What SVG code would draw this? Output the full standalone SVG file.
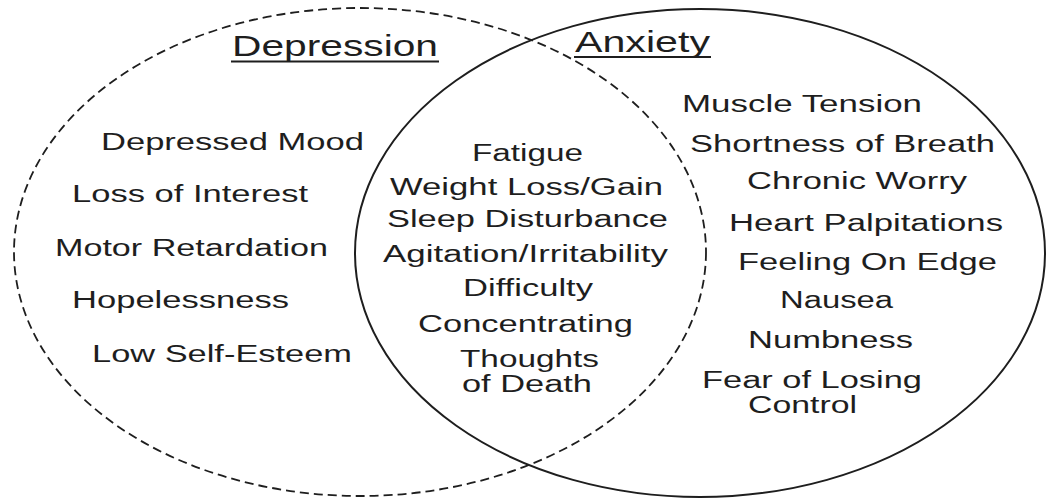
<svg xmlns="http://www.w3.org/2000/svg" width="1050" height="500" viewBox="0 0 1050 500">
<style>
  .t { font-family: "Liberation Sans", Arial, sans-serif; font-size: 23px; fill: #1e1e1e; }
  .h { font-family: "Liberation Sans", Arial, sans-serif; font-size: 30px; fill: #1e1e1e; }
  .ul { stroke: #1e1e1e; stroke-width: 2; }
  .dash { fill: none; stroke: #1e1e1e; stroke-width: 1.8; stroke-dasharray: 9 5; }
  .solid { fill: none; stroke: #1e1e1e; stroke-width: 2; }
</style>
<rect width="1050" height="500" fill="#ffffff"/>
<g id="sets">
  <ellipse id="depression-set" class="dash" cx="360" cy="252" rx="346" ry="244"/>
  <ellipse id="anxiety-set" class="solid" cx="700" cy="253" rx="345" ry="244"/>
</g>
<g id="depression-title">
  <text class="h" x="232" y="56" textLength="206" lengthAdjust="spacingAndGlyphs">Depression</text>
  <line class="ul" x1="231" y1="61.5" x2="439" y2="61.5"/>
</g>
<g id="anxiety-title">
  <text class="h" x="575" y="51.5" textLength="135" lengthAdjust="spacingAndGlyphs">Anxiety</text>
  <line class="ul" x1="574" y1="57" x2="711" y2="57"/>
</g>
<g id="depression-only">
  <text class="t" x="101" y="150" textLength="263" lengthAdjust="spacingAndGlyphs">Depressed Mood</text>
  <text class="t" x="72" y="202" textLength="236" lengthAdjust="spacingAndGlyphs">Loss of Interest</text>
  <text class="t" x="55" y="256" textLength="273" lengthAdjust="spacingAndGlyphs">Motor Retardation</text>
  <text class="t" x="72" y="308" textLength="217" lengthAdjust="spacingAndGlyphs">Hopelessness</text>
  <text class="t" x="92" y="362" textLength="260" lengthAdjust="spacingAndGlyphs">Low Self-Esteem</text>
</g>
<g id="overlap">
  <text class="t" x="472" y="161" textLength="111" lengthAdjust="spacingAndGlyphs">Fatigue</text>
  <text class="t" x="390" y="195" textLength="273" lengthAdjust="spacingAndGlyphs">Weight Loss/Gain</text>
  <text class="t" x="387" y="227" textLength="281" lengthAdjust="spacingAndGlyphs">Sleep Disturbance</text>
  <text class="t" x="383" y="262" textLength="285" lengthAdjust="spacingAndGlyphs">Agitation/Irritability</text>
  <text class="t" x="463" y="296" textLength="130" lengthAdjust="spacingAndGlyphs">Difficulty</text>
  <text class="t" x="418" y="332" textLength="215" lengthAdjust="spacingAndGlyphs">Concentrating</text>
  <text class="t" x="460" y="367" textLength="139" lengthAdjust="spacingAndGlyphs">Thoughts</text>
  <text class="t" x="462" y="392" textLength="130" lengthAdjust="spacingAndGlyphs">of Death</text>
</g>
<g id="anxiety-only">
  <text class="t" x="682" y="112" textLength="240" lengthAdjust="spacingAndGlyphs">Muscle Tension</text>
  <text class="t" x="690" y="152" textLength="305" lengthAdjust="spacingAndGlyphs">Shortness of Breath</text>
  <text class="t" x="747" y="189" textLength="220" lengthAdjust="spacingAndGlyphs">Chronic Worry</text>
  <text class="t" x="729" y="231" textLength="274" lengthAdjust="spacingAndGlyphs">Heart Palpitations</text>
  <text class="t" x="738" y="270" textLength="259" lengthAdjust="spacingAndGlyphs">Feeling On Edge</text>
  <text class="t" x="780" y="308" textLength="113" lengthAdjust="spacingAndGlyphs">Nausea</text>
  <text class="t" x="748" y="348" textLength="165" lengthAdjust="spacingAndGlyphs">Numbness</text>
  <text class="t" x="702" y="388" textLength="220" lengthAdjust="spacingAndGlyphs">Fear of Losing</text>
  <text class="t" x="748" y="413" textLength="109" lengthAdjust="spacingAndGlyphs">Control</text>
</g>
</svg>
